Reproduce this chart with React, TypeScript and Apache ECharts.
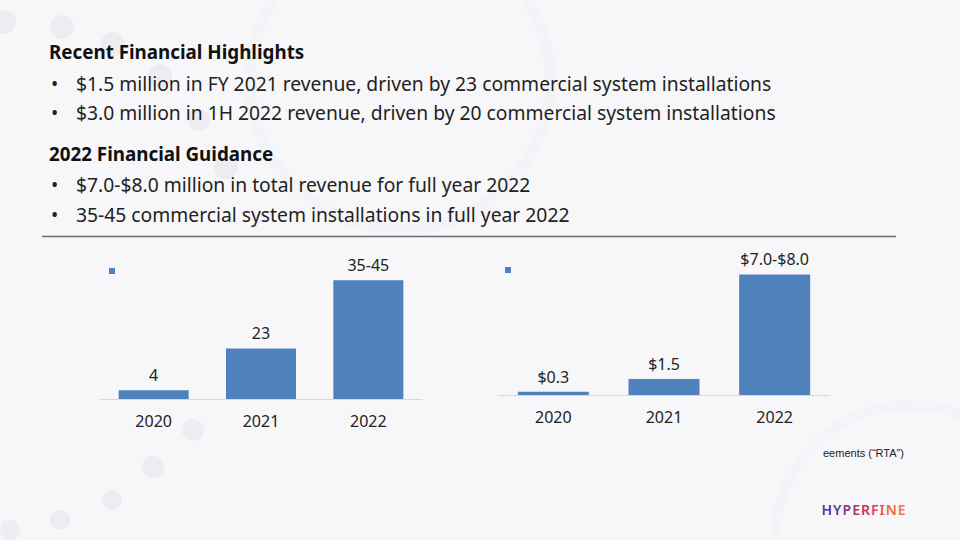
import React, { useEffect, useRef } from "react";
import * as echarts from "echarts";

const years = ["2020", "2021", "2022"];
const installs = [4, 23, 54];
const installLabels = ["4", "23", "35-45"];
const revenue = [0.3, 1.5, 11.3];
const revenueLabels = ["$0.3", "$1.5", "$7.0-$8.0"];

const heading1 = "Recent Financial Highlights";
const bullets1 = [
  "$1.5 million in FY 2021 revenue, driven by 23 commercial system installations",
  "$3.0 million in 1H 2022 revenue, driven by 20 commercial system installations",
];
const heading2 = "2022 Financial Guidance";
const bullets2 = [
  "$7.0-$8.0 million in total revenue for full year 2022",
  "35-45 commercial system installations in full year 2022",
];
const footnote = "eements (\u201cRTA\u201d)";
const logo = "HYPERFINE";
const logoColors = ["#4a3a92", "#6a3a8c", "#8a3880", "#a83470", "#c23660", "#d84856", "#e6584c", "#ee6a42", "#f27a3a"];

const FONT = "'Noto Sans', sans-serif";
const BAR = "#4f81bd";

export default function App() {
  const ref = useRef<HTMLDivElement>(null);
  useEffect(() => {
    if (!ref.current) return;
    const chart = echarts.init(ref.current, null, { renderer: "svg" });
    const circles = [
      [4, 22, 12], [62, 27, 12], [113, 44, 12], [160, 76, 12], [199, 120, 11], [226, 167, 12],
      [193, 430, 11], [153, 467, 11], [112, 500, 10], [60, 520, 10], [10, 530, 10],
    ].map(([cx, cy, r]) => ({
      type: "circle", z: -10, silent: true,
      shape: { cx, cy, r }, style: { fill: "rgba(200,205,215,0.22)" },
    }));
    const textEl = (t: string, x: number, y: number, bold = false) => ({
      type: "text", x, y,
      style: {
        text: t, fill: bold ? "#111" : "#222", font: `${bold ? "bold 18.8px" : "19.3px"} ${FONT}`,
        textVerticalAlign: "middle",
      },
    });
    const rich: any = {};
    logoColors.forEach((c, i) => {
      rich["l" + i] = { fill: c, fontSize: 14, fontFamily: FONT, fontWeight: 600, padding: [0, 0.5, 0, 0.5] };
    });
    const logoText = logo.split("").map((ch, i) => `{l${i}|${ch}}`).join("");
    const graphic: any[] = [
      ...circles,
      { type: "circle", z: -10, silent: true, shape: { cx: 400, cy: 80, r: 150 },
        style: { fill: "none", stroke: "rgba(230,232,238,0.18)", lineWidth: 12 } },
      { type: "circle", z: -10, silent: true, shape: { cx: 910, cy: 540, r: 135 },
        style: { fill: "none", stroke: "rgba(235,237,242,0.3)", lineWidth: 10 } },
      textEl(heading1, 49, 52, true),
      ...bullets1.flatMap((b, i) => [textEl("\u2022", 51, 83 + i * 29), textEl(b, 76, 83 + i * 29)]),
      textEl(heading2, 49, 154, true),
      ...bullets2.flatMap((b, i) => [textEl("\u2022", 51, 184 + i * 30), textEl(b, 76, 184 + i * 30)]),
      { type: "line", shape: { x1: 42, y1: 236.5, x2: 896, y2: 236.5 }, style: { stroke: "#6b6b6b", lineWidth: 1.5 } },
      { type: "rect", shape: { x: 109, y: 268, width: 6, height: 6 }, style: { fill: BAR } },
      { type: "rect", shape: { x: 505, y: 267, width: 6, height: 6 }, style: { fill: BAR } },
      { type: "text", x: 823, y: 453, style: { text: footnote, fill: "#222", font: "11px 'Liberation Sans', Arial, sans-serif", textVerticalAlign: "middle" } },
      { type: "text", x: 821, y: 509, style: { text: logoText, rich, textVerticalAlign: "middle" } },
    ];
    const labelStyle = { show: true, position: "top", distance: 7, fontSize: 16, fontFamily: FONT, color: "#222" };
    chart.setOption({
      animation: false,
      backgroundColor: "#f7f7f9",
      graphic,
      grid: [
        { left: 100, right: 960 - 422, top: 267, bottom: 540 - 399 },
        { left: 498, right: 960 - 830, top: 267, bottom: 540 - 395 },
      ],
      xAxis: [0, 1].map((g) => ({
        type: "category", gridIndex: g, data: years,
        axisLine: { lineStyle: { color: "#d9d9d9", width: 1 } },
        axisTick: { show: false },
        axisLabel: { fontSize: 16, fontFamily: FONT, color: "#222", margin: 14 },
      })),
      yAxis: [
        { type: "value", gridIndex: 0, min: 0, max: 60, show: false, splitLine: { show: false } },
        { type: "value", gridIndex: 1, min: 0, max: 12, show: false, splitLine: { show: false } },
      ],
      series: [
        {
          type: "bar", xAxisIndex: 0, yAxisIndex: 0, data: installs, barWidth: 70,
          itemStyle: { color: BAR },
          label: { ...labelStyle, formatter: (p: any) => installLabels[p.dataIndex] },
        },
        {
          type: "bar", xAxisIndex: 1, yAxisIndex: 1, data: revenue, barWidth: 71,
          itemStyle: { color: BAR },
          label: { ...labelStyle, formatter: (p: any) => revenueLabels[p.dataIndex] },
        },
      ],
    });
    return () => chart.dispose();
  }, []);
  return <div ref={ref} style={{ position: "fixed", left: 0, top: 0, width: 960, height: 540 }} />;
}
